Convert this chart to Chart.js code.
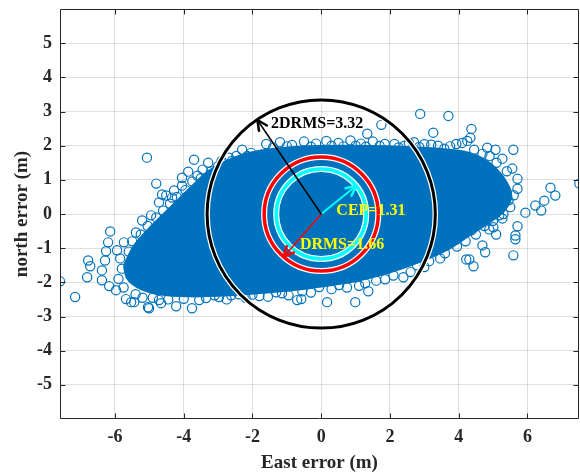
<!DOCTYPE html>
<html>
<head>
<meta charset="utf-8">
<script src="https://cdn.jsdelivr.net/npm/chart.js@4.4.1/dist/chart.umd.min.js"></script>
<style>
  html, body { margin: 0; padding: 0; background: #fff; }
  #wrap { width: 580px; height: 474px; }
</style>
</head>
<body>
<div id="wrap"><canvas id="c" width="580" height="474"></canvas></div>
<script>
// axes
const xTicks = [-6, -4, -2, 0, 2, 4, 6]
const yTicks = [-5, -4, -3, -2, -1, 0, 1, 2, 3, 4, 5]
const xRange = [-7.6, 7.5]
const yRange = [-6, 6]

// outline of the dense core of the error cloud (m)
const cloudEdge = [
  [-5.74, -1.50], [-5.44, -0.92], [-5.01, -0.42], [-4.42, 0.16], [-3.84, 0.74],
  [-3.26, 1.27], [-2.53, 1.65], [-1.80, 1.85], [-0.64, 1.97], [0.82, 2.00],
  [2.27, 1.97], [3.44, 1.91], [4.31, 1.79], [4.89, 1.50], [5.33, 1.03],
  [5.53, 0.54], [5.33, 0.10], [4.89, -0.25], [4.31, -0.63], [3.73, -1.01],
  [2.85, -1.41], [1.98, -1.71], [0.82, -2.00], [-0.35, -2.17], [-1.51, -2.29],
  [-2.68, -2.38], [-3.84, -2.41], [-4.72, -2.35], [-5.30, -2.17], [-5.65, -1.88],
  [-5.74, -1.50]
]

// single fixes visible around the core (m)
const outliers = [
  [1.75, 2.61], [1.34, 2.35], [2.88, 2.93], [3.70, 2.87], [4.37, 2.49], [3.26, 2.38],
  [4.34, 2.23], [4.25, 2.14], [5.59, 1.88], [5.07, 1.88], [4.83, 1.94],
  [-1.60, 2.05], [-1.20, 2.10], [-0.85, 2.02], [-0.50, 2.12], [-0.15, 2.06], [0.15, 2.14],
  [0.50, 2.08], [0.85, 2.15], [1.15, 2.06], [1.50, 2.12], [1.85, 2.05], [2.13, 2.05],
  [2.42, 2.00], [2.70, 2.10], [3.00, 2.04], [3.20, 2.03], [3.58, 1.91], [3.93, 2.05],
  [4.10, 2.08], [4.69, 1.76], [5.27, 1.62], [5.56, 1.33], [5.71, 1.03], [5.71, 0.74],
  [-1.40, 1.95], [-1.00, 1.98], [-0.30, 1.97], [0.30, 2.00], [0.65, 1.98], [1.00, 2.00],
  [1.30, 1.97], [1.70, 1.99], [2.25, 1.95], [2.55, 2.08], [2.85, 1.96], [3.40, 2.00],
  [3.75, 1.98], [4.45, 1.88], [4.90, 1.70], [5.10, 1.50], [5.40, 1.25],
  [-2.30, 1.88], [-2.04, 1.79], [-2.47, 1.70], [-2.68, 1.65], [-2.90, 1.55], [-3.29, 1.50],
  [-3.70, 1.59], [-3.87, 1.24], [-4.05, 1.06], [-4.80, 0.89], [-4.63, 0.57], [-4.34, 0.48],
  [-5.07, 1.65], [-3.45, 1.30], [-3.60, 1.12], [-4.05, 0.83], [-4.28, 0.69], [-4.51, 0.54],
  [-4.72, 0.34], [-4.95, -0.04], [-5.21, -0.19], [-5.39, -0.54], [-5.74, -0.83], [-5.94, -1.06],
  [-2.15, 1.70], [-2.60, 1.55], [-3.00, 1.40], [-3.20, 1.25], [-3.50, 1.05], [-3.75, 0.95],
  [-3.95, 0.70], [-4.20, 0.50], [-4.40, 0.30], [-4.60, 0.10], [-4.80, -0.10], [-5.05, -0.35],
  [-5.25, -0.60], [-5.50, -0.80], [-5.60, -1.10], [-5.85, -1.30], [-5.80, -1.60], [-5.90, -1.90],
  [-5.75, -2.15], [-5.40, -2.35], [-5.20, -2.45],
  [-6.14, -0.51], [-6.20, -0.83], [-6.26, -1.09], [-6.78, -1.36], [-6.72, -1.53], [-6.81, -1.85],
  [-7.16, -2.43], [-7.60, -1.97], [-6.38, -1.94], [-6.29, -1.36], [-6.17, -2.11], [-5.97, -2.23],
  [-5.68, -2.49], [-5.53, -2.58], [-6.38, -1.65],
  [-5.04, -2.73], [-4.66, -2.61], [-4.22, -2.70], [-3.76, -2.76], [-5.01, -2.76], [-5.44, -2.58],
  [-4.72, -2.52], [-3.35, -2.46], [-2.97, -2.43], [-2.62, -2.38], [-2.20, -2.45], [-1.80, -2.40],
  [-1.31, -2.29], [-1.14, -2.32], [-0.70, -2.52], [-0.58, -2.49], [-0.55, -2.26], [-0.06, -2.14],
  [0.17, -2.58], [0.52, -2.08], [0.99, -2.58], [1.28, -2.03], [1.37, -2.26], [1.86, -1.91],
  [2.39, -1.85], [2.79, -1.50], [3.14, -1.38], [3.46, -1.30], [4.22, -1.33], [4.10, -0.57],
  [-4.90, -2.45], [-4.45, -2.50], [-4.00, -2.48], [-3.55, -2.52], [-3.10, -2.38], [-2.75, -2.50],
  [-2.40, -2.35], [-2.00, -2.36], [-1.55, -2.42], [-0.95, -2.38], [-0.30, -2.30], [0.30, -2.20],
  [0.75, -2.15], [1.10, -2.10], [1.60, -1.95], [2.10, -1.80], [2.60, -1.70], [3.00, -1.55],
  [3.60, -1.15], [3.95, -0.95], [4.20, -0.80], [4.50, -0.60], [4.75, -0.35], [5.00, -0.20],
  [5.30, 0.00], [5.50, 0.20], [5.60, 0.55],
  [7.51, 0.89], [6.67, 0.77], [6.81, 0.54], [6.49, 0.39], [6.23, 0.25], [6.40, 0.10],
  [5.94, 0.04], [5.71, -0.36], [5.65, -0.63], [5.65, -0.74], [5.59, -1.21], [5.09, -0.60],
  [5.27, -0.13], [5.01, -0.39], [4.89, -0.45], [4.77, -1.12], [4.69, -0.92], [4.31, -1.33],
  [4.43, -1.53], [4.60, -0.19], [4.37, -0.48], [5.18, -0.04], [5.45, 0.40]
]

// accuracy circles
const ringNames = ['CEP', 'DRMS', '2DRMS']
const ringRadii = [1.31, 1.66, 3.32]
const arrowAngles = [39, 229, 124] // degrees

const blue = '#0072BD'
const ringColors = ['#00FFFF', '#FF0000', '#000000']
const ringWidths = [3.5, 3.5, 3]
const labelColors = ['#FFFF00', '#FFFF00', '#000000']
const serif = "'Liberation Serif', 'Times New Roman', serif"
const axisColor = '#262626'

// overlay: circles, arrows and labels
const ringPlugin = {
  id: 'rings',
  afterDatasetsDraw(chart) {
    const { ctx, scales: { x, y }, chartArea } = chart
    const cx = x.getPixelForValue(0)
    const cy = y.getPixelForValue(0)
    ctx.save()
    ctx.beginPath()
    ctx.rect(chartArea.left, chartArea.top, chartArea.width, chartArea.height)
    ctx.clip()

    ringRadii.forEach((r, i) => {
      const rp = x.getPixelForValue(r) - cx
      ctx.beginPath()
      ctx.arc(cx, cy, rp, 0, Math.PI * 2)
      ctx.strokeStyle = '#ffffff'
      ctx.lineWidth = ringWidths[i] + 2.5
      ctx.stroke()
      ctx.beginPath()
      ctx.arc(cx, cy, rp, 0, Math.PI * 2)
      ctx.strokeStyle = ringColors[i]
      ctx.lineWidth = ringWidths[i]
      ctx.stroke()
    })

    // arrows from the centre to each circle
    ringRadii.forEach((r, i) => {
      const a = arrowAngles[i] * Math.PI / 180
      const tx = x.getPixelForValue(r * Math.cos(a))
      const ty = y.getPixelForValue(r * Math.sin(a))
      const ang = Math.atan2(ty - cy, tx - cx)
      ctx.strokeStyle = ringColors[i]
      ctx.lineCap = 'round'
      ctx.lineJoin = 'round'
      ctx.lineWidth = i === 0 ? 2 : 1.5
      ctx.beginPath()
      ctx.moveTo(cx, cy)
      ctx.lineTo(tx, ty)
      ctx.stroke()
      const hl = 11, ha = 0.45
      ctx.lineWidth = 2.5
      ctx.beginPath()
      ctx.moveTo(tx - hl * Math.cos(ang - ha), ty - hl * Math.sin(ang - ha))
      ctx.lineTo(tx, ty)
      ctx.lineTo(tx - hl * Math.cos(ang + ha), ty - hl * Math.sin(ang + ha))
      ctx.stroke()
    })

    // labels
    ctx.font = 'bold 16px ' + serif
    ctx.textAlign = 'left'
    ctx.textBaseline = 'middle'
    const spots = [[0.44, 0.10], [-0.62, -0.90], [-1.46, 2.64]]
    ringNames.forEach((n, i) => {
      ctx.fillStyle = labelColors[i]
      ctx.fillText(n + '=' + ringRadii[i].toFixed(2), x.getPixelForValue(spots[i][0]), y.getPixelForValue(spots[i][1]))
    })
    ctx.restore()
  }
}

// MATLAB style box with inward ticks
const framePlugin = {
  id: 'frame',
  afterDraw(chart) {
    const { ctx, scales: { x, y }, chartArea: a } = chart
    const L = Math.round(a.left) + 0.5, R = Math.round(a.right) - 0.5
    const T = Math.round(a.top) + 0.5, B = Math.round(a.bottom) - 0.5
    ctx.save()
    ctx.strokeStyle = axisColor
    ctx.lineWidth = 1
    ctx.beginPath()
    ctx.rect(L, T, R - L, B - T)
    xTicks.forEach(v => {
      const px = Math.round(x.getPixelForValue(v)) + 0.5
      ctx.moveTo(px, B); ctx.lineTo(px, B - 5)
      ctx.moveTo(px, T); ctx.lineTo(px, T + 5)
    })
    yTicks.forEach(v => {
      const py = Math.round(y.getPixelForValue(v)) + 0.5
      ctx.moveTo(L, py); ctx.lineTo(L + 5, py)
      ctx.moveTo(R, py); ctx.lineTo(R - 5, py)
    })
    ctx.stroke()
    ctx.restore()
  }
}

// no extra room for the end tick labels
const noPad = s => {
  s.paddingLeft = 0; s.paddingRight = 0
  s.paddingTop = 0; s.paddingBottom = 0
}

const gridColor = 'rgba(38, 38, 38, 0.15)'
const tickFont = { family: serif, size: 18, weight: 'bold' }
const titleFont = { family: serif, size: 19, weight: 'bold' }

const ctx = document.getElementById('c').getContext('2d')
new Chart(ctx, {
  type: 'scatter',
  data: {
    datasets: [
      {
        label: 'points',
        data: outliers.map(([x, y]) => ({ x, y })),
        order: 0,
        pointRadius: 4.6,
        pointHoverRadius: 4.6,
        pointBorderWidth: 1.2,
        borderColor: blue,
        backgroundColor: 'rgba(0,0,0,0)'
      },
      {
        label: 'cloud',
        data: cloudEdge.map(([x, y]) => ({ x, y })),
        order: 1,
        showLine: true,
        fill: 'shape',
        tension: 0.3,
        borderWidth: 2,
        borderJoinStyle: 'round',
        borderColor: blue,
        backgroundColor: blue,
        pointRadius: 0
      }
    ]
  },
  options: {
    responsive: false,
    animation: false,
    layout: { autoPadding: false, padding: { top: 9, right: 1, left: 0, bottom: 0 } },
    plugins: {
      legend: { display: false },
      tooltip: { enabled: false }
    },
    scales: {
      x: {
        type: 'linear',
        min: xRange[0],
        max: xRange[1],
        afterBuildTicks: s => { s.ticks = xTicks.map(v => ({ value: v })) },
        afterFit: s => { s.height = 55; noPad(s) },
        grid: { color: gridColor, lineWidth: 1, drawTicks: false },
        border: { display: false },
        ticks: { font: tickFont, color: axisColor, padding: 8, maxRotation: 0 },
        title: { display: true, text: 'East error (m)', font: titleFont, color: axisColor, padding: { top: 0, bottom: 0 } }
      },
      y: {
        type: 'linear',
        min: yRange[0],
        max: yRange[1],
        afterBuildTicks: s => { s.ticks = yTicks.map(v => ({ value: v })) },
        afterFit: s => { s.width = 60; noPad(s) },
        grid: { color: gridColor, lineWidth: 1, drawTicks: false },
        border: { display: false },
        ticks: { font: tickFont, color: axisColor, padding: 8 },
        title: { display: true, text: 'north error (m)', font: titleFont, color: axisColor, padding: { top: 11, bottom: 0 } }
      }
    }
  },
  plugins: [ringPlugin, framePlugin]
})
</script>
</body>
</html>
